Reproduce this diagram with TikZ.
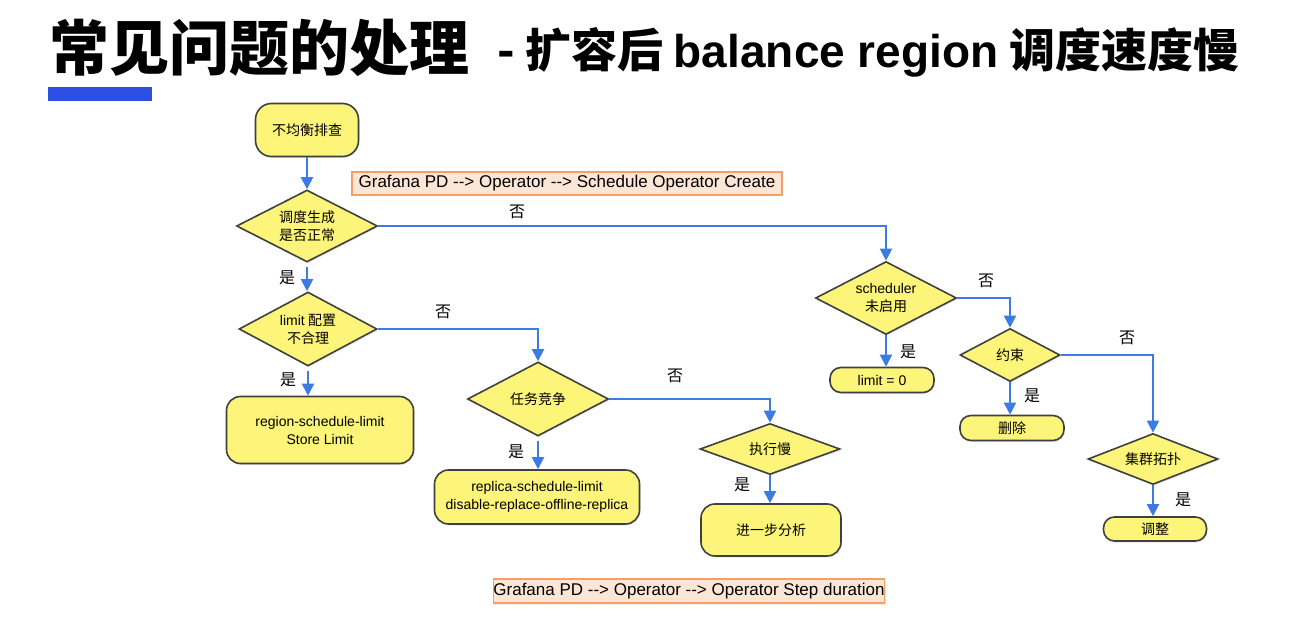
\documentclass[tikz,border=0pt]{standalone}
\usepackage{fontspec}
\setmainfont{Noto Sans CJK SC}
\newfontfamily\lat{Liberation Sans}
\usetikzlibrary{shapes.geometric,arrows.meta,shadows}

\definecolor{boxfill}{HTML}{FDF57A}
\definecolor{boxline}{HTML}{404040}
\definecolor{flowblue}{HTML}{3C7BE3}
\definecolor{notefill}{HTML}{FDE6D6}
\definecolor{noteline}{HTML}{F2A06A}
\definecolor{barblue}{HTML}{2D4FE3}

\tikzset{
  base/.style={draw=boxline, fill=boxfill, line width=1.6pt, inner sep=0pt,
    font=\fontsize{14}{18}\selectfont, align=center,
    drop shadow={opacity=0.18, shadow xshift=1pt, shadow yshift=-1.5pt}},
  proc/.style={base, rectangle, rounded corners=14pt},
  pill/.style={base, rectangle, rounded corners=11pt},
  decide/.style={base, diamond, aspect=2},
  note/.style={draw=noteline, fill=notefill, line width=1.2pt, inner sep=0pt,
    font=\lat\fontsize{17}{20}\selectfont,
    drop shadow={opacity=0.15, shadow xshift=1pt, shadow yshift=-1.5pt}},
  flow/.style={draw=flowblue, line width=2pt, -{Triangle[length=12pt,width=12pt]}},
  ans/.style={font=\fontsize{16}{16}\selectfont, inner sep=0pt},
}

\begin{document}
\begin{tikzpicture}[x=1pt, y=-1pt]
  \fill[white] (0,0) rectangle (1310,623);
  \useasboundingbox (0,0) rectangle (1310,623);

  % heading
  \node[anchor=west, inner sep=0pt, font=\fontsize{60}{60}\selectfont\bfseries] (title) at (49,48) {常见问题的处理};
  \node[anchor=west, inner sep=0pt, font=\fontsize{46}{46}\selectfont\bfseries] (subtitle) at (497,52) {- 扩容后 {\lat balance region} 调度速度慢};
  \fill[barblue] (48,87) rectangle (152,101);

  % notes
  \node[note, minimum width=430pt, minimum height=23pt] (noteA) at (567,183.5) {Grafana PD --> Operator --> Schedule Operator Create};
  \node[note, minimum width=386pt, minimum height=24pt] (noteB) at (689,591) {Grafana PD --> Operator --> Operator Step duration};

  % flow nodes
  \node[proc, minimum width=103pt, minimum height=53pt, rounded corners=16pt] (start) at (307,130) {不均衡排查};
  \node[decide, minimum width=141pt, minimum height=72pt] (d1) at (307,226) {调度生成\\是否正常};
  \node[decide, minimum width=138pt, minimum height=74pt] (d2) at (308,329) {{\lat limit} 配置\\不合理};
  \node[proc, minimum width=187pt, minimum height=67pt] (b1) at (320,430) {\lat region-schedule-limit\\\lat Store Limit};
  \node[decide, minimum width=141pt, minimum height=74pt] (d3) at (538,399) {任务竞争};
  \node[proc, minimum width=205pt, minimum height=54pt] (b2) at (537,497) {\lat replica-schedule-limit\\\lat disable-replace-offline-replica};
  \node[decide, minimum width=140pt, minimum height=51pt] (d4) at (770,449) {执行慢};
  \node[proc, minimum width=140pt, minimum height=52pt] (b3) at (771,530) {进一步分析};
  \node[decide, minimum width=141pt, minimum height=73pt] (d5) at (886,298) {{\lat scheduler}\\未启用};
  \node[pill, minimum width=104pt, minimum height=25pt] (b4) at (882,380) {\lat limit = 0};
  \node[decide, minimum width=100pt, minimum height=53pt] (d6) at (1010,355) {约束};
  \node[pill, minimum width=104pt, minimum height=25pt] (b5) at (1012,428) {删除};
  \node[decide, minimum width=130pt, minimum height=51pt] (d7) at (1153,459) {集群拓扑};
  \node[pill, minimum width=103pt, minimum height=24pt] (b6) at (1155,529) {调整};

  % connectors
  \draw[flow] (start.south) -- (d1.north);
  \draw[flow] (d1.east) -| (d5.north);
  \draw[flow, shorten <=4pt] (d1.south) -- (d1.south |- d2.north);
  \draw[flow] (d2.east) -| (d3.north);
  \draw[flow, shorten <=4pt] (d2.south) -- (d2.south |- b1.north);
  \draw[flow] (d3.east) -| (d4.north);
  \draw[flow, shorten <=4pt] (d3.south) -- (d3.south |- b2.north);
  \draw[flow] (d4.south) -- (d4.south |- b3.north);
  \draw[flow] (d5.east) -| (d6.north);
  \draw[flow] (d5.south) -- (d5.south |- b4.north);
  \draw[flow] (d6.east) -| (d7.north);
  \draw[flow] (d6.south) -- (d6.south |- b5.north);
  \draw[flow] (d7.south) -- (d7.south |- b6.north);

  % branch answers
  \node[ans] (a1) at (517,212) {否};
  \node[ans] (a2) at (287,278) {是};
  \node[ans] (a3) at (443,312) {否};
  \node[ans] (a4) at (288,380) {是};
  \node[ans] (a5) at (675,376) {否};
  \node[ans] (a6) at (516,452) {是};
  \node[ans] (a7) at (742,485) {是};
  \node[ans] (a8) at (908,352) {是};
  \node[ans] (a9) at (986,281) {否};
  \node[ans] (a10) at (1032,396) {是};
  \node[ans] (a11) at (1127,338) {否};
  \node[ans] (a12) at (1183,500) {是};
\end{tikzpicture}
\end{document}
